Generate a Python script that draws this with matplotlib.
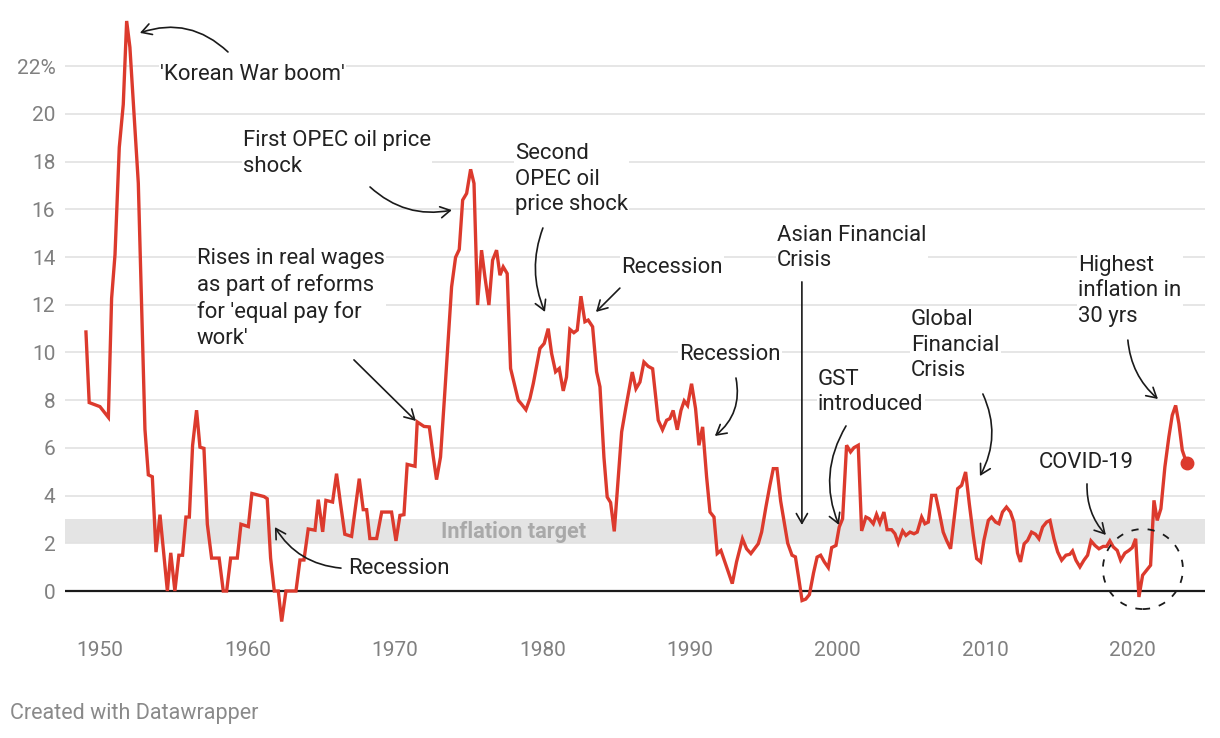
import matplotlib
matplotlib.use("Agg")
import matplotlib.pyplot as plt
from matplotlib.patches import Ellipse

plt.rcParams["font.family"] = ["Roboto", "DejaVu Sans"]

# quarterly CPI inflation (% yoy)
years = [
    1949.05, 1949.27, 1950.0, 1950.57, 1950.79, 1951.02, 1951.31, 1951.58, 1951.81, 1952.03,
    1952.6, 1953.05, 1953.28, 1953.55, 1953.8, 1954.07, 1954.57, 1954.8, 1955.08, 1955.35,
    1955.6, 1955.83, 1956.06, 1956.28, 1956.55, 1956.78, 1957.05, 1957.28, 1957.57, 1958.08,
    1958.36, 1958.59, 1958.86, 1959.31, 1959.56, 1960.06, 1960.3, 1960.62, 1961.12, 1961.34,
    1961.57, 1961.82, 1962.09, 1962.32, 1962.61, 1963.29, 1963.56, 1963.83, 1964.12, 1964.58,
    1964.8, 1965.1, 1965.32, 1965.77, 1966.04, 1966.31, 1966.6, 1967.06, 1967.58, 1967.85,
    1968.08, 1968.3, 1968.76, 1969.1, 1969.77, 1970.07, 1970.34, 1970.61, 1970.83, 1971.36,
    1971.51, 1971.97, 1972.33, 1972.6, 1972.82, 1973.09, 1973.39, 1973.84, 1974.11, 1974.36,
    1974.59, 1974.86, 1975.13, 1975.36, 1975.6, 1975.87, 1976.1, 1976.37, 1976.62, 1976.89,
    1977.12, 1977.34, 1977.61, 1977.84, 1978.36, 1978.59, 1978.88, 1979.15, 1979.38, 1979.83,
    1980.12, 1980.39, 1980.62, 1980.89, 1981.14, 1981.41, 1981.63, 1981.86, 1982.13, 1982.36,
    1982.61, 1982.88, 1983.1, 1983.4, 1983.67, 1983.9, 1984.17, 1984.39, 1984.62, 1984.87,
    1985.37, 1985.66, 1986.09, 1986.34, 1986.61, 1986.88, 1987.17, 1987.47, 1987.85, 1988.14,
    1988.42, 1988.64, 1988.86, 1989.14, 1989.39, 1989.61, 1989.84, 1990.11, 1990.38, 1990.61,
    1990.86, 1991.13, 1991.36, 1991.63, 1991.85, 1992.1, 1992.37, 1992.6, 1992.87, 1993.16,
    1993.56, 1993.84, 1994.13, 1994.41, 1994.63, 1994.86, 1995.15, 1995.42, 1995.65, 1995.9,
    1996.15, 1996.37, 1996.63, 1996.92, 1997.15, 1997.38, 1997.6, 1997.85, 1998.1, 1998.38,
    1998.62, 1998.86, 1999.11, 1999.38, 1999.61, 1999.9, 2000.12, 2000.35, 2000.62, 2000.89,
    2001.12, 2001.41, 2001.64, 2001.93, 2002.15, 2002.43, 2002.65, 2002.88, 2003.15, 2003.37,
    2003.67, 2003.9, 2004.12, 2004.42, 2004.64, 2004.92, 2005.19, 2005.41, 2005.71, 2005.93,
    2006.16, 2006.39, 2006.66, 2006.88, 2007.17, 2007.4, 2007.67, 2007.92, 2008.15, 2008.42,
    2008.69, 2008.94, 2009.21, 2009.44, 2009.71, 2009.93, 2010.23, 2010.45, 2010.72, 2010.95,
    2011.19, 2011.46, 2011.73, 2011.96, 2012.21, 2012.41, 2012.66, 2012.89, 2013.16, 2013.43,
    2013.66, 2013.91, 2014.18, 2014.41, 2014.68, 2014.93, 2015.2, 2015.49, 2015.76, 2015.94,
    2016.17, 2016.44, 2016.71, 2016.96, 2017.19, 2017.46, 2017.73, 2018.02, 2018.25, 2018.47,
    2018.7, 2018.97, 2019.2, 2019.49, 2019.76, 2019.99, 2020.22, 2020.44, 2020.69, 2020.96,
    2021.23, 2021.46, 2021.68, 2021.93, 2022.2, 2022.47, 2022.7, 2022.93, 2023.15, 2023.38,
    2023.67,
]
inflation = [
    10.86, 7.9, 7.73, 7.28, 12.27, 14.1, 18.6, 20.4, 23.9, 22.8,
    17.1, 6.78, 4.87, 4.79, 1.63, 3.2, 0.0, 1.6, 0.0, 1.5,
    1.5, 3.1, 3.1, 6.1, 7.58, 6.03, 5.98, 2.8, 1.38, 1.38,
    0.0, 0.0, 1.38, 1.38, 2.8, 2.7, 4.09, 4.04, 3.96, 3.87,
    1.38, 0.0, 0.0, -1.28, 0.0, 0.0, 1.3, 1.3, 2.6, 2.55,
    3.83, 2.48, 3.8, 3.73, 4.92, 3.66, 2.38, 2.29, 4.71, 3.41,
    3.41, 2.2, 2.2, 3.31, 3.31, 2.1, 3.17, 3.2, 5.31, 5.23,
    7.09, 6.9, 6.88, 5.62, 4.67, 5.62, 8.42, 12.75, 13.99, 14.32,
    16.39, 16.67, 17.68, 17.09, 11.99, 14.29, 13.17, 11.99, 13.87, 14.29,
    13.24, 13.59, 13.31, 9.33, 8.0, 7.83, 7.6, 8.07, 8.7, 10.17,
    10.38, 11.0, 9.96, 9.19, 9.33, 8.39, 8.97, 10.97, 10.83, 10.94,
    12.36, 11.29, 11.36, 11.08, 9.19, 8.56, 5.6, 3.94, 3.71, 2.5,
    6.67, 7.71, 9.18, 8.48, 8.76, 9.6, 9.42, 9.32, 7.16, 6.76,
    7.16, 7.23, 7.57, 6.76, 7.57, 7.97, 7.78, 8.69, 7.65, 6.11,
    6.88, 4.78, 3.31, 3.1, 1.57, 1.7, 1.22, 0.8, 0.31, 1.22,
    2.19, 1.77, 1.57, 1.8, 1.98, 2.47, 3.52, 4.43, 5.13, 5.13,
    3.77, 2.96, 2.0, 1.5, 1.43, 0.52, -0.4, -0.34, -0.15, 0.76,
    1.42, 1.5, 1.22, 0.98, 1.82, 1.91, 2.68, 3.03, 6.11, 5.83,
    6.01, 6.11, 2.52, 3.1, 3.03, 2.82, 3.21, 2.85, 3.31, 2.57,
    2.57, 2.4, 2.01, 2.52, 2.33, 2.47, 2.4, 2.47, 3.1, 2.82,
    2.89, 4.01, 4.01, 3.38, 2.47, 2.12, 1.77, 3.1, 4.29, 4.43,
    4.99, 3.66, 2.33, 1.36, 1.22, 2.12, 2.96, 3.1, 2.89, 2.82,
    3.31, 3.52, 3.31, 2.89, 1.59, 1.22, 1.98, 2.12, 2.47, 2.38,
    2.19, 2.68, 2.89, 2.96, 2.19, 1.64, 1.29, 1.5, 1.54, 1.68,
    1.29, 1.01, 1.29, 1.5, 2.1, 1.91, 1.77, 1.87, 1.87, 2.1,
    1.85, 1.7, 1.29, 1.59, 1.7, 1.82, 2.19, -0.25, 0.66, 0.87,
    1.08, 3.8, 2.96, 3.45, 5.2, 6.46, 7.37, 7.78, 7.02, 5.9,
    5.37,
]

target_band = (2, 3)
y_ticks = list(range(0, 23, 2))
y_labels = [str(v) for v in y_ticks[:-1]] + ["22%"]
x_ticks = list(range(1950, 2021, 10))

# (text, text x, text y, arrow start, arrow end, curvature)
notes = [
    ("'Korean War boom'", 1954.07, 21.64, (1958.68, 22.6), (1952.71, 23.4), 0.3),
    ("First OPEC oil price\nshock", 1959.69, 18.34, (1968.31, 16.94), (1973.86, 15.97), 0.25),
    ("Second\nOPEC oil\nprice shock", 1978.14, 17.27, (1980.03, 15.22), (1980.17, 11.7), 0.2),
    ("Recession", 1985.32, 13.58, (1985.25, 12.7), (1983.63, 11.7), 0.0),
    ("Rises in real wages\nas part of reforms\nfor 'equal pay for\nwork'", 1956.58, 12.26,
     (1967.22, 9.69), (1971.42, 7.13), 0.0),
    ("Recession", 1966.81, 0.96, (1966.34, 0.96), (1961.86, 2.68), -0.25),
    ("Recession", 1989.25, 9.9, (1993.12, 8.93), (1991.69, 6.5), -0.3),
    ("Asian Financial\nCrisis", 1995.9, 14.38, (1997.59, 12.96), (1997.59, 2.77), 0.0),
    ("GST\nintroduced", 1998.68, 8.34, (2000.58, 6.92), (2000.1, 2.77), 0.25),
    ("Global\nFinancial\nCrisis", 2004.98, 10.31, (2009.86, 8.26), (2009.66, 4.82), -0.25),
    ("Highest\ninflation in\n30 yrs", 2016.31, 12.58, (2019.69, 10.52), (2021.73, 8.05), 0.2),
    ("COVID-19", 2013.66, 5.37, (2016.92, 4.49), (2018.2, 2.35), 0.2),
]

red = "#dc3a2d"
fig = plt.figure(figsize=(12.2, 7.38), dpi=100)
ax = fig.add_axes([65 / 1220, 108 / 738, 1140 / 1220, 615 / 738])
ax.set_xlim(1947.63, 2024.92)
ax.set_ylim(-1.635, 24.15)

ax.axhspan(*target_band, color="#e4e4e4", zorder=0, lw=0)
for v in y_ticks[1:]:
    ax.axhline(v, color="#e2e2e2", lw=1.2, zorder=0)
ax.axhline(0, color="#1a1a1a", lw=1.6, zorder=1)
ax.text(1978.07, 2.47, "Inflation target", ha="center", va="center",
        fontsize=15.7, fontweight="bold", color="#a9a9a9", zorder=1)

ax.plot(years, inflation, color=red, lw=2.4, zorder=3, solid_joinstyle="miter")
ax.plot(years[-1:], inflation[-1:], "o", color=red, ms=9, zorder=4)

for txt, tx, ty, a0, a1, rad in notes:
    ax.text(tx, ty, txt, ha="left", va="center", fontsize=15.9, color="#222222",
            linespacing=1.3, zorder=5,
            bbox=dict(facecolor="white", edgecolor="none", pad=1))
    ax.annotate("", xy=a1, xytext=a0, zorder=6,
                arrowprops=dict(arrowstyle="->,head_length=0.7,head_width=0.4",
                                color="#1a1a1a", lw=1.2, shrinkA=0, shrinkB=0,
                                connectionstyle=f"arc3,rad={rad}"))

ax.add_patch(Ellipse((2020.71, 0.92), 80 / 14.75, 80 / 23.85, fill=False,
                     ls=(0, (4, 5)), lw=1.3, color="#1a1a1a", zorder=6))

ax.set_yticks(y_ticks)
ax.set_yticklabels(y_labels)
ax.set_xticks(x_ticks)
ax.tick_params(length=0, labelsize=15, labelcolor="#808080")
ax.tick_params(axis="y", pad=7)
ax.tick_params(axis="x", pad=8)
for s in ax.spines.values():
    s.set_visible(False)

fig.text(10 / 1220, 1 - 714 / 738, "Created with Datawrapper", ha="left", va="center",
         fontsize=15.5, color="#8a8a8a")

fig.savefig("out.png", dpi=100)
